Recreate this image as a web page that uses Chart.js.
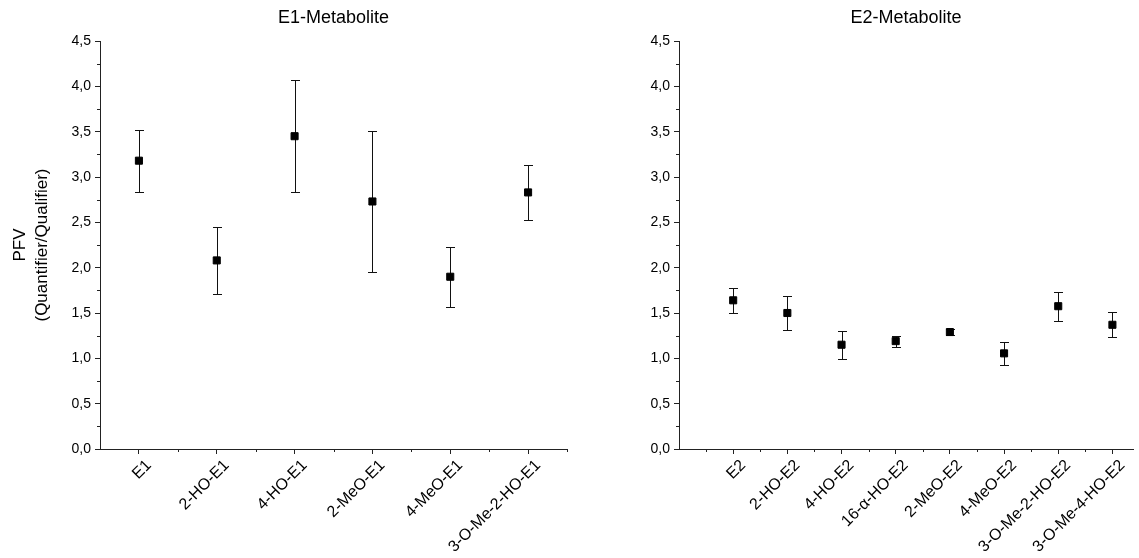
<!DOCTYPE html>
<html>
<head>
<meta charset="utf-8">
<script src="https://cdn.jsdelivr.net/npm/chart.js@4/dist/chart.umd.min.js"></script>
<style>
  html, body { margin: 0; padding: 0; background: #fff; }
  #wrap { position: relative; width: 1139px; height: 558px; }
  #c1 { position: absolute; left: 0; top: 0; }
  #c2 { position: absolute; left: 580px; top: 0; }
</style>
</head>
<body>
<div id="wrap">
  <canvas id="c1" width="580" height="558"></canvas>
  <canvas id="c2" width="559" height="558"></canvas>
</div>
<script>
// E1 metabolites
const e1Labels = ['E1', '2-HO-E1', '4-HO-E1', '2-MeO-E1', '4-MeO-E1', '3-O-Me-2-HO-E1'];
const e1Mean = [3.18, 2.08, 3.45, 2.73, 1.90, 2.83];
const e1Sd = [0.34, 0.365, 0.62, 0.775, 0.33, 0.305];

// E2 metabolites
const e2Labels = ['E2', '2-HO-E2', '4-HO-E2', '16-\u03B1-HO-E2', '2-MeO-E2', '4-MeO-E2', '3-O-Me-2-HO-E2', '3-O-Me-4-HO-E2'];
const e2Mean = [1.64, 1.50, 1.15, 1.19, 1.29, 1.055, 1.575, 1.37];
const e2Sd = [0.14, 0.185, 0.155, 0.06, 0.03, 0.127, 0.16, 0.14];

const yTicks = [0, 0.5, 1, 1.5, 2, 2.5, 3, 3.5, 4, 4.5];

const FONT = 'Arial, "Liberation Sans", sans-serif';
const AXIS = '#222';

// error bars, drawn under the markers
const errorBars = {
  id: 'errorBars',
  beforeDatasetsDraw(chart) {
    let ctx = chart.ctx;
    let xs = chart.scales.x;
    let ys = chart.scales.y;
    let ds = chart.data.datasets[0];
    ctx.save();
    ctx.strokeStyle = '#111';
    ctx.lineWidth = 1;
    ds.data.forEach(function (p, i) {
      let sd = ds.sd[i];
      let x = Math.round(xs.getPixelForValue(p.x)) + 0.5;
      let top = Math.round(ys.getPixelForValue(p.y + sd)) + 0.5;
      let bot = Math.round(ys.getPixelForValue(p.y - sd)) + 0.5;
      ctx.beginPath();
      ctx.moveTo(x, top);
      ctx.lineTo(x, bot);
      ctx.moveTo(x - 4.5, top);
      ctx.lineTo(x + 4.5, top);
      ctx.moveTo(x - 4.5, bot);
      ctx.lineTo(x + 4.5, bot);
      ctx.stroke();
    });
    ctx.restore();
  },
};

// minor ticks on both axes
const minorTicks = {
  id: 'minorTicks',
  afterDraw(chart) {
    let ctx = chart.ctx;
    let xs = chart.scales.x;
    let ys = chart.scales.y;
    let area = chart.chartArea;
    ctx.save();
    ctx.strokeStyle = AXIS;
    ctx.lineWidth = 1;
    ctx.beginPath();
    for (let v = 0.25; v < 4.5; v += 0.5) {
      let y = Math.round(ys.getPixelForValue(v)) + 0.5;
      ctx.moveTo(area.left - 3, y);
      ctx.lineTo(area.left, y);
    }
    let n = chart.data.datasets[0].data.length;
    for (let v = -0.5; v <= n; v += 1) {
      let x = xs.getPixelForValue(v);
      if (x <= area.left + 1 || x > area.right) continue;
      x = Math.round(x) + 0.5;
      ctx.moveTo(x, area.bottom);
      ctx.lineTo(x, area.bottom + 3);
    }
    ctx.stroke();
    ctx.restore();
  },
};

function makeChart(canvas, title, labels, means, sds, xMin, xMax, yWidth, showYTitle) {
  let points = means.map(function (m, i) {
    return { x: i, y: m };
  });
  return new Chart(canvas, {
    type: 'scatter',
    data: {
      datasets: [
        {
          data: points,
          sd: sds,
          pointStyle: 'rect',
          pointRadius: 5,
          pointBackgroundColor: '#000',
          pointBorderColor: '#000',
          pointBorderWidth: 1,
        },
      ],
    },
    options: {
      responsive: false,
      animation: false,
      devicePixelRatio: 1,
      layout: { padding: { left: 0, right: xMax > 6 ? 0 : 13, top: 0, bottom: 0 } },
      plugins: {
        legend: { display: false },
        tooltip: { enabled: false },
        title: {
          display: true,
          text: title,
          fullSize: false,
          color: '#000',
          font: { family: FONT, size: 18, weight: 'normal' },
          padding: { top: 7, bottom: 12.4 },
        },
      },
      scales: {
        x: {
          type: 'linear',
          min: xMin,
          max: xMax,
          afterBuildTicks(scale) {
            scale.ticks = labels.map(function (l, i) {
              return { value: i };
            });
          },
          afterFit(scale) {
            scale.height = 109;
          },
          ticks: {
            autoSkip: false,
            minRotation: 45,
            maxRotation: 45,
            padding: 2,
            labelOffset: 10,
            color: '#000',
            font: { family: FONT, size: 16 },
            callback: function (v, i) {
              return labels[i];
            },
          },
          grid: { display: true, drawOnChartArea: false, tickLength: 5, color: AXIS },
          border: { display: true, color: AXIS, width: 1 },
        },
        y: {
          type: 'linear',
          min: 0,
          max: 4.5,
          afterBuildTicks(scale) {
            scale.ticks = yTicks.map(function (v) {
              return { value: v };
            });
          },
          afterFit(scale) {
            scale.width = yWidth;
          },
          ticks: {
            padding: 4,
            color: '#000',
            font: { family: FONT, size: 14 },
            callback: function (v) {
              return Number(v).toFixed(1).replace('.', ',');
            },
          },
          grid: { display: true, drawOnChartArea: false, tickLength: 5, color: AXIS },
          border: { display: true, color: AXIS, width: 1 },
          title: {
            display: showYTitle,
            text: ['PFV', '(Quantifier/Qualifier)'],
            color: '#000',
            font: { family: FONT, size: 17, lineHeight: 1.3 },
            padding: { top: 9, bottom: 0 },
          },
        },
      },
    },
    plugins: [errorBars, minorTicks],
  });
}

makeChart(document.getElementById('c1'), 'E1-Metabolite', e1Labels, e1Mean, e1Sd, -0.5, 5.5, 100, true);
makeChart(document.getElementById('c2'), 'E2-Metabolite', e2Labels, e2Mean, e2Sd, -1, 7.38, 99, false);
</script>
</body>
</html>
